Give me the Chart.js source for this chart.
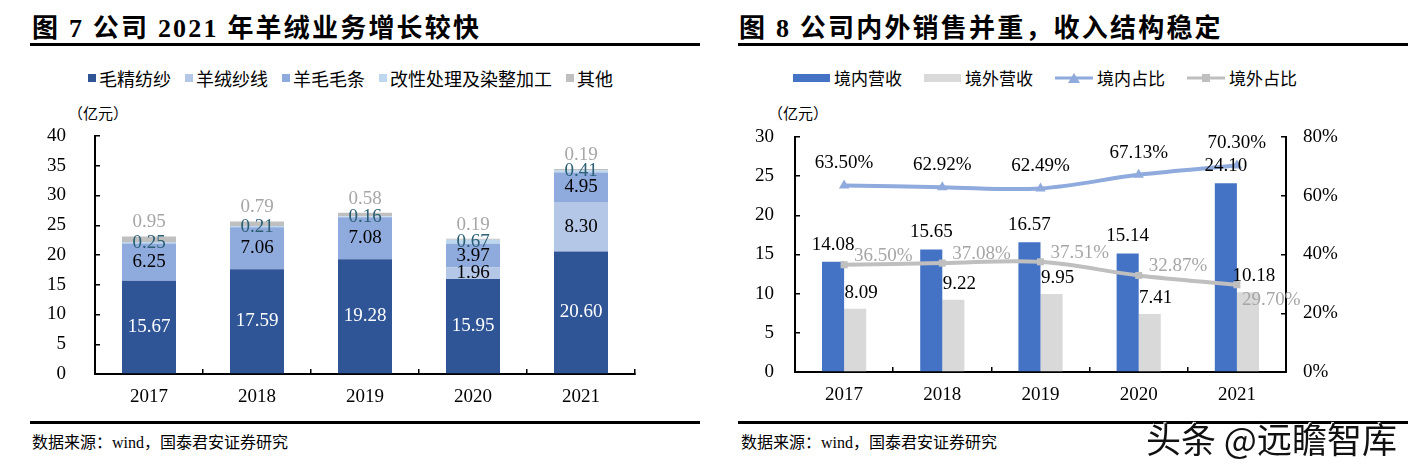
<!DOCTYPE html>
<html>
<head>
<meta charset="utf-8">
<script src="https://cdn.jsdelivr.net/npm/chart.js@4.4.1/dist/chart.umd.min.js"></script>
<style>
  body { margin: 0; background: #fff; }
  #page { position: relative; width: 1421px; height: 472px; overflow: hidden; background: #fff;
          font-family: "Liberation Serif", "Noto Sans CJK SC", serif; color: #000; }
  .title { position: absolute; top: 14px; font-size: 26px; line-height: 30px; font-weight: bold;
           letter-spacing: 2.2px; white-space: nowrap; }
  .rule { position: absolute; height: 3px; background: #000; }
  .legend { position: absolute; top: 67px; height: 22px; display: flex; align-items: center;
            font-family: "Noto Sans CJK SC", sans-serif; font-size: 18px; line-height: 22px; white-space: nowrap; }
  .legend .item { display: flex; align-items: center; margin-right: 14px; }
  .legend .box { display: inline-block; width: 8px; height: 8px; margin-right: 3px; }
  .legend .bar { display: inline-block; width: 37px; height: 8px; margin-right: 4px; }
  .legend svg { margin-right: 4px; }
  .unit { position: absolute; top: 103px; font-family: "Noto Sans CJK SC", sans-serif; font-size: 15px; line-height: 20px; }
  .source { position: absolute; top: 432px; font-size: 16px; line-height: 22px; white-space: nowrap; }
  .chartbox { position: absolute; top: 56px; width: 670px; height: 364px; }
  #mark { position: absolute; left: 1146px; top: 418px; font-family: "Noto Sans CJK SC", sans-serif;
          font-size: 35px; line-height: 40px; color: #111; white-space: nowrap;
          text-shadow: -1px -1px 0 #fff, 1px 1px 0 #fff; }
</style>
</head>
<body>
<div id="page">
  <div class="title" style="left:32px">图 7 公司 2021 年羊绒业务增长较快</div>
  <div class="rule" style="left:30px; width:670px; top:43px"></div>
  <div class="legend" id="leg7" style="left:88px"></div>
  <div class="unit" style="left:68px">（亿元）</div>
  <div class="chartbox" style="left:30px"><canvas id="c7" width="670" height="364"></canvas></div>
  <div class="rule" style="left:30px; width:670px; top:421px"></div>
  <div class="source" style="left:32px">数据来源：wind，国泰君安证券研究</div>

  <div class="title" style="left:739px">图 8 公司内外销售并重，收入结构稳定</div>
  <div class="rule" style="left:738px; width:670px; top:43px"></div>
  <div class="legend" id="leg8" style="left:793px; font-size:17px"></div>
  <div class="unit" style="left:768px">（亿元）</div>
  <div class="chartbox" style="left:738px"><canvas id="c8" width="670" height="364"></canvas></div>
  <div class="rule" style="left:738px; width:670px; top:421px"></div>
  <div class="source" style="left:741px">数据来源：wind，国泰君安证券研究</div>
  <div id="mark">头条 @远瞻智库</div>
</div>

<script>
// 图7 收入构成（亿元）
const years = ["2017", "2018", "2019", "2020", "2021"];
const woolYarn = [15.67, 17.59, 19.28, 15.95, 20.60];   // 毛精纺纱
const cashmereYarn = [0, 0, 0, 1.96, 8.30];             // 羊绒纱线
const woolTops = [6.25, 7.06, 7.08, 3.97, 4.95];        // 羊毛毛条
const dyeing = [0.25, 0.21, 0.16, 0.67, 0.41];          // 改性处理及染整加工
const others = [0.95, 0.79, 0.58, 0.19, 0.19];          // 其他

// 图8 内外销（亿元 / %）
const domestic = [14.08, 15.65, 16.57, 15.14, 24.10];
const overseas = [8.09, 9.22, 9.95, 7.41, 10.18];
const domesticPct = [63.50, 62.92, 62.49, 67.13, 70.30];
const overseasPct = [36.50, 37.08, 37.51, 32.87, 29.70];

const serif = "Liberation Serif";

// draws the value labels next to bars / points
const valueLabels = {
  id: "valueLabels",
  afterDatasetsDraw(chart) {
    const ctx = chart.ctx;
    ctx.save();
    ctx.font = "19px " + serif;
    ctx.textBaseline = "middle";
    chart.data.datasets.forEach((ds, di) => {
      if (!ds.labelPos) return;
      const meta = chart.getDatasetMeta(di);
      const last = meta.data.length - 1;
      meta.data.forEach((el, i) => {
        const v = ds.data[i];
        if (!v) return;
        const txt = v.toFixed(2) + (ds.suffix || "");
        let x = el.x, y = el.y;
        ctx.textAlign = "center";
        if (ds.labelPos === "center") y = (el.y + el.base) / 2;
        else if (ds.labelPos === "above") { y = el.y - ds.gap; x += ds.dx || 0; }
        else if (ds.labelPos === "right") {
          ctx.textAlign = "left";
          if (i === last) { x += 5; y += 15; } else { x += 10; y -= 9; }
        }
        ctx.fillStyle = ds.labelColor;
        ctx.fillText(txt, x, y);
      });
    });
    ctx.restore();
  }
};

function axisCommon(pad) {
  return {
    border: { color: "#000", width: 2 },
    grid: { display: true, drawOnChartArea: false, drawTicks: true, tickLength: -5, color: "#000", lineWidth: 1.5 },
    ticks: { color: "#000", font: { family: serif, size: 19 }, padding: pad }
  };
}

// ---- 图7 ----
const set7 = [
  { label: "毛精纺纱", data: woolYarn, backgroundColor: "#2F5597", labelPos: "center", labelColor: "#fff" },
  { label: "羊绒纱线", data: cashmereYarn, backgroundColor: "#B4C7E7", labelPos: "center", labelColor: "#000" },
  { label: "羊毛毛条", data: woolTops, backgroundColor: "#8FAADC", labelPos: "center", labelColor: "#000" },
  { label: "改性处理及染整加工", data: dyeing, backgroundColor: "#BDD7EE", labelPos: "center", labelColor: "#2B5F75" },
  { label: "其他", data: others, backgroundColor: "#BFBFBF", labelPos: "above", gap: 14, labelColor: "#A6A6A6" }
];

const x7 = axisCommon(17);
x7.stacked = true;
x7.grid.offset = true;
x7.afterFit = s => { s.height = 46; };
const y7 = axisCommon(34);
Object.assign(y7, { stacked: true, min: 0, max: 40, afterFit: s => { s.width = 65; } });
y7.ticks.stepSize = 5;

new Chart(document.getElementById("c7"), {
  type: "bar",
  data: { labels: years, datasets: set7.map(d => Object.assign({ barPercentage: 0.5, categoryPercentage: 1 }, d)) },
  options: {
    responsive: false,
    animation: false,
    layout: { padding: { top: 80, right: 65, left: 0, bottom: 0 } },
    plugins: { legend: { display: false }, tooltip: { enabled: false } },
    scales: { x: x7, y: y7 }
  },
  plugins: [valueLabels]
});

document.getElementById("leg7").innerHTML = set7.map(d =>
  `<span class="item"><span class="box" style="background:${d.backgroundColor}"></span>${d.label}</span>`).join("");

// ---- 图8 ----
const set8 = [
  { type: "line", label: "境内占比", data: domesticPct, yAxisID: "y1", borderColor: "#8FAADC", backgroundColor: "#8FAADC",
    borderWidth: 4, pointStyle: "triangle", pointRadius: 6, pointBorderWidth: 0, tension: 0.35, order: 0,
    labelPos: "above", gap: 22, suffix: "%", labelColor: "#000" },
  { type: "line", label: "境外占比", data: overseasPct, yAxisID: "y1", borderColor: "#BFBFBF", backgroundColor: "#BFBFBF",
    borderWidth: 4, pointStyle: "rect", pointRadius: 5, pointBorderWidth: 0, tension: 0.35, order: 1,
    labelPos: "right", suffix: "%", labelColor: "#A6A6A6" },
  { type: "bar", label: "境内营收", data: domestic, yAxisID: "y", backgroundColor: "#4472C4", order: 2,
    barPercentage: 1, categoryPercentage: 0.45, labelPos: "above", gap: 17, labelColor: "#000" },
  { type: "bar", label: "境外营收", data: overseas, yAxisID: "y", backgroundColor: "#D9D9D9", order: 3,
    barPercentage: 1, categoryPercentage: 0.45, labelPos: "above", gap: 16, dx: 6, labelColor: "#000" }
];

const x8 = axisCommon(17);
x8.grid.offset = true;
x8.afterFit = s => { s.height = 48; };
const y8 = axisCommon(26);
Object.assign(y8, { position: "left", min: 0, max: 30, afterFit: s => { s.width = 57; } });
y8.ticks.stepSize = 5;
const y8r = axisCommon(22);
Object.assign(y8r, { position: "right", min: 0, max: 80, afterFit: s => { s.width = 122; } });
y8r.ticks.stepSize = 20;
y8r.ticks.callback = v => v + "%";

new Chart(document.getElementById("c8"), {
  type: "bar",
  data: { labels: years, datasets: set8 },
  options: {
    responsive: false,
    animation: false,
    layout: { padding: { top: 81, right: 0, left: 0, bottom: 0 } },
    plugins: { legend: { display: false }, tooltip: { enabled: false } },
    scales: { x: x8, y: y8, y1: y8r }
  },
  plugins: [valueLabels]
});

function legendMark(d) {
  if (d.type === "bar") return `<span class="bar" style="background:${d.backgroundColor}"></span>`;
  const c = d.borderColor;
  const m = d.pointStyle === "triangle"
    ? `<polygon points="19,1 25,11 13,11" fill="${c}"/>`
    : `<rect x="15" y="2" width="8" height="8" fill="${c}"/>`;
  return `<svg width="38" height="12"><line x1="0" y1="6" x2="38" y2="6" stroke="${c}" stroke-width="3"/>${m}</svg>`;
}
const legOrder = [2, 3, 0, 1];
document.getElementById("leg8").innerHTML = legOrder.map(i => set8[i]).map(d =>
  `<span class="item" style="margin-right:22px">${legendMark(d)}${d.label}</span>`).join("");
</script>
</body>
</html>
